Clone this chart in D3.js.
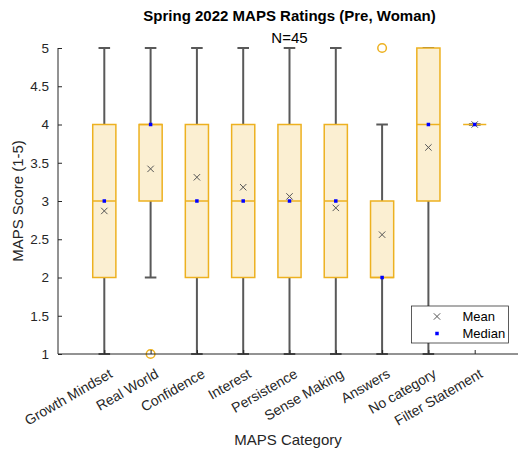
<!DOCTYPE html>
<html>
<head>
<meta charset="utf-8">
<script src="https://cdn.jsdelivr.net/npm/d3@7"></script>
<style>
    body { margin: 0; background: #fff; }
    svg { display: block; font-family: "Liberation Sans", Arial, Helvetica, sans-serif; }
</style>
</head>
<body>
<svg id="chart" width="518" height="452"></svg>
<script>
const categories = ["Growth Mindset", "Real World", "Confidence", "Interest", "Persistence",
    "Sense Making", "Answers", "No category", "Filter Statement"];
const q1 = [2, 3, 2, 2, 2, 2, 2, 3, 4];
const q3 = [4, 4, 4, 4, 4, 4, 3, 5, 4];
const medians = [3, 4, 3, 3, 3, 3, 2, 4, 4];
const whiskerLow = [1, 2, 1, 1, 1, 1, 1, 1, 4];
const whiskerHigh = [5, 5, 5, 5, 5, 5, 4, 5, 4];
const means = [2.87, 3.42, 3.31, 3.18, 3.06, 2.91, 2.56, 3.70, 4.00];
const outlierCats = ["Real World", "Answers"];
const outlierValues = [1, 5];
const yTicks = [1, 1.5, 2, 2.5, 3, 3.5, 4, 4.5, 5];

const boxColor = "#EDB120";
const boxFill = "#FBEFD2";
const whiskerColor = "#595959";
const axisColor = "#262626";

const svg = d3.select("#chart");
const plotLeft = 58, plotRight = 521, plotTop = 48, plotBottom = 354;

// x in category units, 1..9, with a unit of padding on each side
const x = d3.scaleLinear().domain([0, categories.length + 1]).range([plotLeft, plotRight]);
const y = d3.scaleLinear().domain([1, 5]).range([plotBottom, plotTop]);
const unit = x(1) - x(0);

const boxes = categories.map((c, i) => ({
    name: c, pos: i + 1, q1: q1[i], q3: q3[i], med: medians[i],
    lo: whiskerLow[i], hi: whiskerHigh[i], mean: means[i]
}));

const plot = svg.append("g");

// whiskers
plot.selectAll(".whisker-lo")
    .data(boxes)
    .enter()
    .append("line")
    .attr("x1", d => x(d.pos)).attr("x2", d => x(d.pos))
    .attr("y1", d => y(d.q1)).attr("y2", d => y(d.lo))
    .style("stroke", whiskerColor).style("stroke-width", 2);

plot.selectAll(".whisker-hi")
    .data(boxes)
    .enter()
    .append("line")
    .attr("x1", d => x(d.pos)).attr("x2", d => x(d.pos))
    .attr("y1", d => y(d.q3)).attr("y2", d => y(d.hi))
    .style("stroke", whiskerColor).style("stroke-width", 2);

// caps
["lo", "hi"].forEach(k => {
    plot.selectAll(".cap-" + k)
        .data(boxes)
        .enter()
        .append("line")
        .attr("x1", d => x(d.pos - 0.125)).attr("x2", d => x(d.pos + 0.125))
        .attr("y1", d => y(d[k])).attr("y2", d => y(d[k]))
        .style("stroke", whiskerColor).style("stroke-width", 2);
});

// boxes
plot.selectAll(".box")
    .data(boxes)
    .enter()
    .append("rect")
    .attr("x", d => x(d.pos - 0.25))
    .attr("width", unit * 0.5)
    .attr("y", d => y(d.q3))
    .attr("height", d => y(d.q1) - y(d.q3))
    .style("fill", boxFill)
    .style("stroke", boxColor)
    .style("stroke-width", 1.5);

// median lines
plot.selectAll(".median")
    .data(boxes)
    .enter()
    .append("line")
    .attr("x1", d => x(d.pos - 0.25)).attr("x2", d => x(d.pos + 0.25))
    .attr("y1", d => y(d.med)).attr("y2", d => y(d.med))
    .style("stroke", boxColor).style("stroke-width", 1.5);

// outliers
plot.selectAll(".outlier")
    .data(outlierCats.map((c, i) => ({ pos: categories.indexOf(c) + 1, v: outlierValues[i] })))
    .enter()
    .append("circle")
    .attr("cx", d => x(d.pos))
    .attr("cy", d => y(d.v))
    .attr("r", 4.3)
    .style("fill", "none")
    .style("stroke", boxColor)
    .style("stroke-width", 1.5);

const crossPath = s => `M${-s},${-s}L${s},${s}M${-s},${s}L${s},${-s}`;

// mean markers
plot.selectAll(".mean")
    .data(boxes)
    .enter()
    .append("path")
    .attr("transform", d => `translate(${x(d.pos)},${y(d.mean)})`)
    .attr("d", crossPath(3.2))
    .style("stroke", "#555")
    .style("stroke-width", 1)
    .style("fill", "none");

// median markers
plot.selectAll(".med-dot")
    .data(boxes)
    .enter()
    .append("rect")
    .attr("x", d => x(d.pos) - 1.75)
    .attr("y", d => y(d.med) - 1.75)
    .attr("width", 3.5).attr("height", 3.5)
    .style("fill", "#0000FF");

// axes
const yAxis = svg.append("g")
    .attr("transform", `translate(${plotLeft},0)`)
    .call(d3.axisLeft(y).tickValues(yTicks).tickSize(-4).tickPadding(9).tickFormat(d3.format("")));
const xAxis = svg.append("g")
    .attr("transform", `translate(0,${plotBottom})`)
    .call(d3.axisBottom(x).tickValues(categories.map((c, i) => i + 1)).tickSize(-4).tickFormat(""));

[yAxis, xAxis].forEach(a => {
    a.select(".domain").style("stroke", axisColor).style("stroke-width", 1);
    a.selectAll(".tick line").style("stroke", axisColor);
    a.selectAll("text").style("fill", axisColor).style("font-size", "13.5px")
        .style("font-family", "\"Liberation Sans\", Arial, sans-serif");
});
yAxis.select(".domain").attr("d", `M0,${plotBottom}V${plotTop}`);
xAxis.select(".domain").attr("d", `M${plotLeft},0H${plotRight}`);

// rotated category labels
svg.append("g").selectAll("text")
    .data(categories)
    .enter()
    .append("text")
    .attr("transform", (d, i) => `translate(${x(i + 1) + 4},${plotBottom + 14}) rotate(-30)`)
    .attr("text-anchor", "end")
    .attr("dy", "0.71em")
    .style("font-size", "14px")
    .style("fill", axisColor)
    .text(d => d);

// titles
svg.append("text")
    .attr("x", (plotLeft + plotRight) / 2).attr("y", 21)
    .attr("text-anchor", "middle")
    .style("font-size", "15px").style("font-weight", "bold").style("fill", "#000")
    .text("Spring 2022 MAPS Ratings (Pre, Woman)");
svg.append("text")
    .attr("x", (plotLeft + plotRight) / 2).attr("y", 43)
    .attr("text-anchor", "middle")
    .style("font-size", "15px").style("fill", "#000")
    .text("N=45");

svg.append("text")
    .attr("x", 288).attr("y", 445)
    .attr("text-anchor", "middle")
    .style("font-size", "15px").style("fill", axisColor)
    .text("MAPS Category");
svg.append("text")
    .attr("transform", `translate(23,${(plotTop + plotBottom) / 2}) rotate(-90)`)
    .attr("text-anchor", "middle")
    .style("font-size", "15px").style("fill", axisColor)
    .text("MAPS Score (1-5)");

// legend
const legend = svg.append("g").attr("transform", "translate(411.5,306)");
legend.append("rect")
    .attr("width", 97).attr("height", 37)
    .style("fill", "#fff").style("stroke", axisColor).style("stroke-width", 0.75);
legend.append("path")
    .attr("transform", "translate(25.5,10.5)")
    .attr("d", crossPath(3.2))
    .style("stroke", "#555").style("fill", "none");
legend.append("rect")
    .attr("x", 23.75).attr("y", 25.75).attr("width", 3.5).attr("height", 3.5)
    .style("fill", "#0000FF");
legend.append("text").attr("x", 51).attr("y", 15)
    .style("font-size", "13px").style("fill", "#000").text("Mean");
legend.append("text").attr("x", 51).attr("y", 32)
    .style("font-size", "13px").style("fill", "#000").text("Median");
</script>
</body>
</html>
